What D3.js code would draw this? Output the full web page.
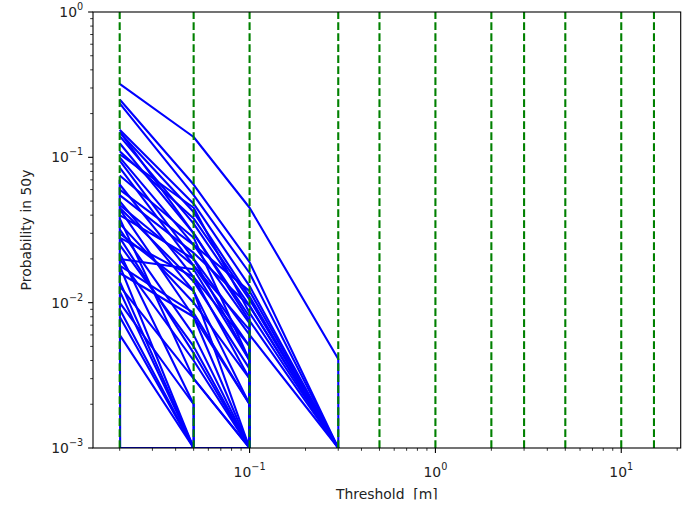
<!DOCTYPE html>
<html>
<head>
<meta charset="utf-8">
<script src="https://cdn.jsdelivr.net/npm/d3@7"></script>
<style>
  body { margin: 0; background: #fff; }
  svg { display: block; font-family: "DejaVu Sans", sans-serif; }
</style>
</head>
<body>
<script>
// thresholds [m] where the exceedance probability was evaluated
const thresholds = [0.02, 0.05, 0.1, 0.3, 0.5, 1, 2, 3, 5, 10, 15];

// probability in 50y for each site (0 = never exceeded)
const prob50y = [
  [0.32, 0.138, 0.045, 0.0041, 0, 0, 0, 0, 0, 0, 0],
  [0.25, 0.065, 0.019, 0.001, 0, 0, 0, 0, 0, 0, 0],
  [0.235, 0.055, 0.016, 0.001, 0, 0, 0, 0, 0, 0, 0],
  [0.155, 0.048, 0.013, 0.001, 0, 0, 0, 0, 0, 0, 0],
  [0.15, 0.03, 0.0075, 0.001, 0, 0, 0, 0, 0, 0, 0],
  [0.148, 0.042, 0.011, 0.001, 0, 0, 0, 0, 0, 0, 0],
  [0.14, 0.035, 0.0095, 0.001, 0, 0, 0, 0, 0, 0, 0],
  [0.125, 0.03, 0.008, 0, 0, 0, 0, 0, 0, 0, 0],
  [0.11, 0.038, 0.0105, 0.001, 0, 0, 0, 0, 0, 0, 0],
  [0.105, 0.045, 0.0085, 0.001, 0, 0, 0, 0, 0, 0, 0],
  [0.1, 0.025, 0.0072, 0, 0, 0, 0, 0, 0, 0, 0],
  [0.095, 0.02, 0.006, 0.001, 0, 0, 0, 0, 0, 0, 0],
  [0.085, 0.018, 0.005, 0, 0, 0, 0, 0, 0, 0, 0],
  [0.075, 0.028, 0.004, 0, 0, 0, 0, 0, 0, 0, 0],
  [0.07, 0, 0, 0, 0, 0, 0, 0, 0, 0, 0],
  [0.065, 0.015, 0.003, 0, 0, 0, 0, 0, 0, 0, 0],
  [0.06, 0.025, 0.012, 0.001, 0, 0, 0, 0, 0, 0, 0],
  [0.055, 0.022, 0.0095, 0.001, 0, 0, 0, 0, 0, 0, 0],
  [0.05, 0.012, 0.002, 0, 0, 0, 0, 0, 0, 0, 0],
  [0.047, 0.018, 0.0065, 0, 0, 0, 0, 0, 0, 0, 0],
  [0.045, 0.014, 0.0035, 0, 0, 0, 0, 0, 0, 0, 0],
  [0.044, 0.008, 0.001, 0, 0, 0, 0, 0, 0, 0, 0],
  [0.04, 0.02, 0.004, 0, 0, 0, 0, 0, 0, 0, 0],
  [0.038, 0.003, 0.001, 0, 0, 0, 0, 0, 0, 0, 0],
  [0.035, 0.01, 0.003, 0, 0, 0, 0, 0, 0, 0, 0],
  [0.032, 0.006, 0.001, 0, 0, 0, 0, 0, 0, 0, 0],
  [0.03, 0.012, 0.001, 0, 0, 0, 0, 0, 0, 0, 0],
  [0.028, 0.015, 0.005, 0, 0, 0, 0, 0, 0, 0, 0],
  [0.028, 0.0045, 0.001, 0, 0, 0, 0, 0, 0, 0, 0],
  [0.025, 0.005, 0.001, 0, 0, 0, 0, 0, 0, 0, 0],
  [0.022, 0.002, 0, 0, 0, 0, 0, 0, 0, 0, 0],
  [0.02, 0.017, 0.004, 0, 0, 0, 0, 0, 0, 0, 0],
  [0.02, 0.004, 0.001, 0, 0, 0, 0, 0, 0, 0, 0],
  [0.018, 0.001, 0, 0, 0, 0, 0, 0, 0, 0, 0],
  [0.018, 0.0085, 0.002, 0, 0, 0, 0, 0, 0, 0, 0],
  [0.016, 0.008, 0.002, 0, 0, 0, 0, 0, 0, 0, 0],
  [0.014, 0.001, 0, 0, 0, 0, 0, 0, 0, 0, 0],
  [0.013, 0.003, 0.001, 0, 0, 0, 0, 0, 0, 0, 0],
  [0.012, 0.001, 0, 0, 0, 0, 0, 0, 0, 0, 0],
  [0.01, 0.002, 0, 0, 0, 0, 0, 0, 0, 0, 0],
  [0.009, 0.001, 0.001, 0, 0, 0, 0, 0, 0, 0, 0],
  [0.008, 0.001, 0, 0, 0, 0, 0, 0, 0, 0, 0],
  [0.006, 0.001, 0, 0, 0, 0, 0, 0, 0, 0, 0],
  [0.001, 0.001, 0.001, 0, 0, 0, 0, 0, 0, 0, 0]
];

const xMajor = [0.1, 1, 10];
const xMajorLabels = ["\u22121", "0", "1"];
const yMajor = [1e-3, 1e-2, 1e-1, 1];
const yMajorLabels = ["\u22123", "\u22122", "\u22121", "0"];

// canvas and margins
let width = 683;
let height = 506;
let margin = { top: 12, right: 2.3, bottom: 58, left: 93 };

const svg = d3.select("body").append("svg")
  .attr("width", width)
  .attr("height", height);

// log axes, x limits padded 5% of the log range like matplotlib
const xScale = d3.scaleLog()
  .domain([Math.pow(10, -1.8426), Math.pow(10, 1.3199)])
  .range([margin.left, width - margin.right]);

const yScale = d3.scaleLog()
  .domain([1e-3, 1])
  .range([height - margin.bottom, margin.top]);

const x0 = margin.left, x1 = width - margin.right;
const y0 = margin.top, y1 = height - margin.bottom;

svg.append("clipPath").attr("id", "plot")
  .append("rect")
  .attr("x", x0).attr("y", y0)
  .attr("width", x1 - x0).attr("height", y1 - y0);

const plot = svg.append("g").attr("clip-path", "url(#plot)");

// zeros go far below the axis, as a clipped log plot does
const line = d3.line()
  .x(d => xScale(d[0]))
  .y(d => yScale(d[1] > 0 ? d[1] : 1e-300));

plot.selectAll("path.site")
  .data(prob50y)
  .enter()
  .append("path")
  .attr("class", "site")
  .attr("d", d => line(d.map((p, i) => [thresholds[i], p])))
  .attr("fill", "none")
  .attr("stroke", "blue")
  .attr("stroke-width", 2.1)
  .attr("stroke-linejoin", "round");

// dashed vertical line at each threshold
plot.selectAll("line.thr")
  .data(thresholds)
  .enter()
  .append("line")
  .attr("class", "thr")
  .attr("x1", d => xScale(d)).attr("x2", d => xScale(d))
  .attr("y1", y1).attr("y2", y0)
  .attr("stroke", "green")
  .attr("stroke-width", 2.1)
  .attr("stroke-dasharray", "7.7,3.3");

// minor ticks
function minors(scale) {
  const [a, b] = scale.domain();
  const out = [];
  for (let e = Math.floor(Math.log10(a)); e <= Math.ceil(Math.log10(b)); e++) {
    for (let k = 2; k <= 9; k++) {
      const v = k * Math.pow(10, e);
      if (v >= a && v <= b) out.push(v);
    }
  }
  return out;
}

const axes = svg.append("g").attr("stroke", "black");

axes.selectAll("line.xmin").data(minors(xScale)).enter().append("line")
  .attr("x1", d => xScale(d)).attr("x2", d => xScale(d))
  .attr("y1", y1).attr("y2", y1 + 2.8).attr("stroke-width", 0.8);
axes.selectAll("line.xmaj").data(xMajor).enter().append("line")
  .attr("x1", d => xScale(d)).attr("x2", d => xScale(d))
  .attr("y1", y1).attr("y2", y1 + 4.9).attr("stroke-width", 1.1);
axes.selectAll("line.ymin").data(minors(yScale)).enter().append("line")
  .attr("x1", x0 - 2.8).attr("x2", x0)
  .attr("y1", d => yScale(d)).attr("y2", d => yScale(d)).attr("stroke-width", 0.8);
axes.selectAll("line.ymaj").data(yMajor).enter().append("line")
  .attr("x1", x0 - 4.9).attr("x2", x0)
  .attr("y1", d => yScale(d)).attr("y2", d => yScale(d)).attr("stroke-width", 1.1);

// frame
svg.append("rect")
  .attr("x", x0).attr("y", y0)
  .attr("width", x1 - x0).attr("height", y1 - y0)
  .attr("fill", "none").attr("stroke", "black").attr("stroke-width", 1.1);

// tick labels as 10^n
function powLabel(sel, exp) {
  sel.append("tspan").text("10");
  sel.append("tspan").attr("dy", -7).style("font-size", "9.7px").text(exp);
}

xMajor.forEach((v, i) => {
  svg.append("text")
    .attr("x", xScale(v))
    .attr("y", y1 + 29)
    .attr("text-anchor", "middle")
    .style("font-size", "13.9px")
    .attr("fill", "#222")
    .call(powLabel, xMajorLabels[i]);
});

yMajor.forEach((v, i) => {
  svg.append("text")
    .attr("x", x0 - 9.8)
    .attr("y", yScale(v) + 5)
    .attr("text-anchor", "end")
    .style("font-size", "13.9px")
    .attr("fill", "#222")
    .call(powLabel, yMajorLabels[i]);
});

// axis labels (the x label is cut by the bottom edge in the original)
svg.append("text")
  .attr("x", (x0 + x1) / 2)
  .attr("y", 499)
  .attr("text-anchor", "middle")
  .style("font-size", "13.9px")
  .style("white-space", "pre")
  .attr("fill", "#222")
  .text("Threshold  [m]");

svg.append("rect")
  .attr("x", 0).attr("y", 499.5)
  .attr("width", width).attr("height", height - 499.5)
  .attr("fill", "#fff");

svg.append("text")
  .attr("x", -(y0 + y1) / 2)
  .attr("y", 31)
  .attr("transform", "rotate(-90)")
  .attr("text-anchor", "middle")
  .style("font-size", "13.9px")
  .attr("fill", "#222")
  .text("Probability in 50y");
</script>
</body>
</html>
